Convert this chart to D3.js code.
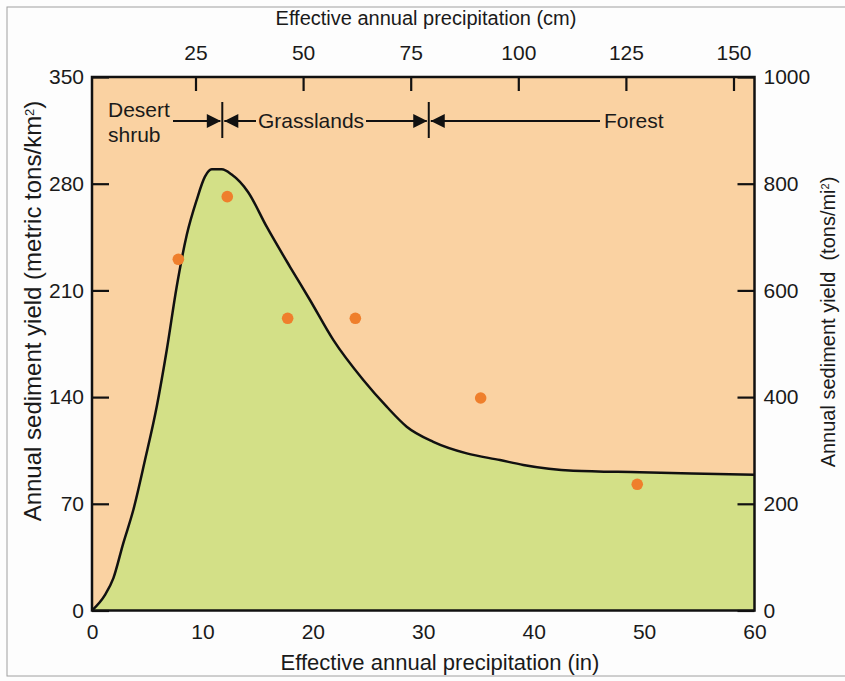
<!DOCTYPE html>
<html><head><meta charset="utf-8">
<script src="https://cdn.jsdelivr.net/npm/d3@7"></script>
<style>
html,body{margin:0;padding:0;background:#fdfdfd;}
svg{display:block;font-family:"Liberation Sans",Arial,sans-serif;}
</style></head>
<body><svg id="c" width="845" height="681"></svg>
<script>
// Curve: effective annual precipitation (in) vs sediment yield (metric tons/km2)
const curveX = [0, 1.18, 1.93, 2.83, 3.74, 4.8, 5.86, 6.77, 7.67, 8.58, 9.48, 10.23, 10.84, 11.75, 12.65, 14.13, 15.82, 17.93, 19.74, 21.85, 24.57, 26.69, 28.5, 30.91, 33.94, 36.95, 39.06, 43.59, 49.63, 60];
const curveY = [0, 10.2, 21.1, 44.1, 65.9, 98.7, 133.7, 170.9, 212.4, 246.3, 269.3, 284.6, 289.4, 289.4, 286.0, 274.6, 251.8, 225.5, 203.7, 177.5, 151.2, 133.7, 120.6, 110.7, 103.1, 98.7, 95.5, 91.7, 90.7, 89];
// Observed points
const pointX = [7.82, 12.25, 17.72, 23.85, 35.2, 49.38];
const pointY = [230.4, 271.5, 191.7, 191.7, 139.4, 82.8];
// Ticks
const bottomTicks = [0, 10, 20, 30, 40, 50, 60];
const leftTicks = [0, 70, 140, 210, 280, 350];
const rightTicks = [0, 200, 400, 600, 800, 1000];
const topTicks = [25, 50, 75, 100, 125, 150];
// Vegetation zones (boundaries in inches)
const zoneBounds = [11.8, 30.5];
const zoneNames = ["Grasslands", "Forest"];

const svg = d3.select("#c");
const L = 92, R = 754.5, T = 77, B = 610.5;
const x = d3.scaleLinear().domain([0, 60]).range([L, R]);
const y = d3.scaleLinear().domain([0, 350]).range([B, T]);
const yR = d3.scaleLinear().domain([0, 1000]).range([B, T]);
const xTop = d3.scaleLinear().domain([25, 150]).range([195.5, 733.5]);

// outer border
svg.append("rect").attr("x", 7).attr("y", 7).attr("width", 850).attr("height", 669)
  .attr("fill", "#fdfdfd").attr("stroke", "#a0a0a0").attr("stroke-width", 1);

// peach background
svg.append("rect").attr("x", L).attr("y", T).attr("width", R - L).attr("height", B - T).attr("fill", "#fad2a2");

const pts = curveX.map((d, i) => [d, curveY[i]]);
const area = d3.area().x(d => x(d[0])).y0(y(0)).y1(d => y(d[1])).curve(d3.curveMonotoneX);
const line = d3.line().x(d => x(d[0])).y(d => y(d[1])).curve(d3.curveMonotoneX);
svg.append("path").datum(pts).attr("d", area).attr("fill", "#d3e087");
svg.append("path").datum(pts).attr("d", line).attr("fill", "none").attr("stroke", "#111").attr("stroke-width", 2.5);

// points
svg.append("g").selectAll("circle").data(pointX.map((d, i) => [d, pointY[i]])).join("circle")
  .attr("cx", d => x(d[0])).attr("cy", d => y(d[1])).attr("r", 5.8).attr("fill", "#ef7f2c");

const fs = 21;
function styleAxis(g) {
  g.select(".domain").remove();
  g.selectAll(".tick line").attr("stroke", "#111").attr("stroke-width", 2.2);
  g.selectAll(".tick text").attr("font-size", fs).attr("fill", "#1a1a1a").attr("font-family", "Liberation Sans, Arial, sans-serif");
}
svg.append("g").attr("transform", `translate(0,${B})`)
  .call(d3.axisBottom(x).tickValues(bottomTicks).tickSize(0).tickPadding(14)).call(styleAxis);
svg.append("g").attr("transform", `translate(${L},0)`)
  .call(d3.axisLeft(y).tickValues(leftTicks).tickSizeInner(-17).tickSizeOuter(0).tickPadding(8)).call(styleAxis);
svg.append("g").attr("transform", `translate(${R},0)`)
  .call(d3.axisRight(yR).tickValues(rightTicks).tickFormat(d3.format("d")).tickSizeInner(-17).tickSizeOuter(0).tickPadding(9)).call(styleAxis);
svg.append("g").attr("transform", `translate(0,${T})`)
  .call(d3.axisTop(xTop).tickValues(topTicks).tickSizeInner(-14).tickSizeOuter(0).tickPadding(17)).call(styleAxis);

// frame
svg.append("rect").attr("x", L).attr("y", T).attr("width", R - L).attr("height", B - T)
  .attr("fill", "none").attr("stroke", "#111").attr("stroke-width", 2.5);

// axis titles
svg.append("text").attr("x", 426).attr("y", 25).attr("text-anchor", "middle").attr("font-size", 20).attr("fill", "#1a1a1a")
  .text("Effective annual precipitation (cm)");
svg.append("text").attr("x", 440).attr("y", 670).attr("text-anchor", "middle").attr("font-size", 22).attr("fill", "#1a1a1a")
  .text("Effective annual precipitation (in)");
const yl = svg.append("text").attr("transform", "translate(41,311) rotate(-90)").attr("text-anchor", "middle")
  .attr("font-size", 24).attr("fill", "#1a1a1a");
yl.append("tspan").text("Annual sediment yield (metric tons/km");
yl.append("tspan").attr("font-size", 13).attr("baseline-shift", "super").text("2");
yl.append("tspan").text(")");
const yr = svg.append("text").attr("transform", "translate(835,322) rotate(-90)").attr("text-anchor", "middle")
  .attr("font-size", 20).attr("fill", "#1a1a1a").attr("xml:space", "preserve");
yr.append("tspan").text("Annual sediment yield  (tons/mi");
yr.append("tspan").attr("font-size", 11).attr("baseline-shift", "super").text("2");
yr.append("tspan").text(")");

// zones annotation
const ay = 121;
const ann = svg.append("g").attr("stroke", "#111").attr("stroke-width", 2).attr("fill", "#111");
zoneBounds.forEach(b => {
  ann.append("line").attr("x1", x(b)).attr("x2", x(b)).attr("y1", 102).attr("y2", 138);
});
function arrowHead(tipX, dir) {
  ann.append("path").attr("stroke", "none")
    .attr("d", `M${tipX},${ay} L${tipX - dir * 14},${ay - 7} L${tipX - dir * 14},${ay + 7} Z`);
}
const b0 = x(zoneBounds[0]), b1 = x(zoneBounds[1]);
ann.append("line").attr("x1", 173).attr("x2", b0 - 2).attr("y1", ay).attr("y2", ay);
arrowHead(b0 - 1.5, 1);
ann.append("line").attr("x1", b0 + 2).attr("x2", 256).attr("y1", ay).attr("y2", ay);
arrowHead(b0 + 2, -1);
ann.append("line").attr("x1", 366).attr("x2", b1 - 2).attr("y1", ay).attr("y2", ay);
arrowHead(b1 - 1.5, 1);
ann.append("line").attr("x1", b1 + 2).attr("x2", 600).attr("y1", ay).attr("y2", ay);
arrowHead(b1 + 2, -1);

const tg = svg.append("g").attr("font-size", fs).attr("fill", "#1a1a1a");
tg.append("text").attr("x", 108).attr("y", 117).text("Desert");
tg.append("text").attr("x", 108).attr("y", 142).text("shrub");
tg.append("text").attr("x", 311).attr("y", 128).attr("text-anchor", "middle").text(zoneNames[0]);
tg.append("text").attr("x", 604).attr("y", 128).text(zoneNames[1]);
</script></body></html>
